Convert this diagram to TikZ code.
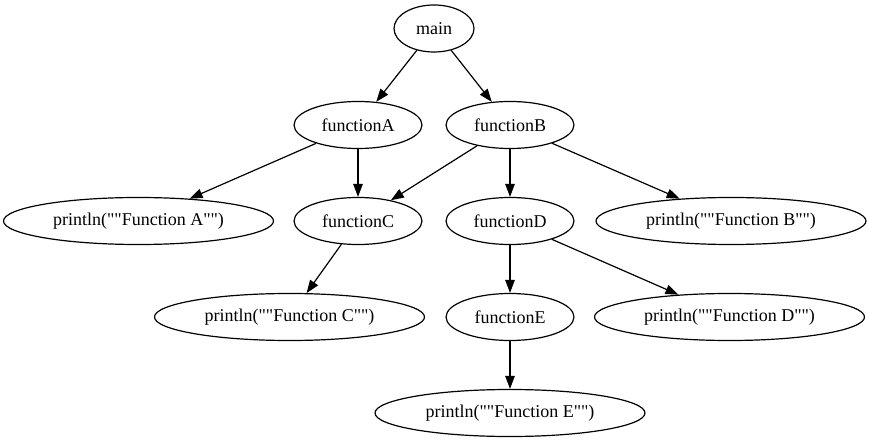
\documentclass[tikz,border=0pt]{standalone}
\usepackage{fontspec}
\setmainfont{Liberation Serif}[Ligatures=TeXOff]
\usetikzlibrary{shapes.geometric,arrows.meta}

\tikzset{
  fn/.style={ellipse, draw=black, line width=1.2pt, inner sep=0pt,
             minimum height=47pt, font=\fontsize{18}{20}\selectfont},
  callbox/.style={fn, minimum width=128pt},
  printbox/.style={fn, minimum width=270pt},
  edge/.style={draw=black, line width=1.2pt,
               -{Triangle[length=13pt,width=9.5pt]}}
}

\begin{document}
\begin{tikzpicture}[x=1pt,y=-1pt]
  \useasboundingbox (0,0) rectangle (869,443);

  % call graph nodes
  \node[fn, minimum width=80pt] (main) at (434,28.5) {main};
  \node[callbox] (fA) at (358,125) {functionA};
  \node[callbox] (fB) at (510,125) {functionB};
  \node[printbox] (pA) at (138.5,221) {println(""Function A"")};
  \node[callbox] (fC) at (358,221) {functionC};
  \node[callbox] (fD) at (510,221) {functionD};
  \node[printbox] (pB) at (731,221) {println(""Function B"")};
  \node[printbox] (pC) at (289.5,317) {println(""Function C"")};
  \node[callbox] (fE) at (510,317) {functionE};
  \node[printbox] (pD) at (729.5,317) {println(""Function D"")};
  \node[printbox] (pE) at (510,413) {println(""Function E"")};

  % calls
  \draw[edge] (main) -- (fA);
  \draw[edge] (main) -- (fB);
  \draw[edge] (fA) -- (pA);
  \draw[edge] (fA) -- (fC);
  \draw[edge] (fB) -- (fC);
  \draw[edge] (fB) -- (fD);
  \draw[edge] (fB) -- (pB);
  \draw[edge] (fC) -- (pC);
  \draw[edge] (fD) -- (fE);
  \draw[edge] (fD) -- (pD);
  \draw[edge] (fE) -- (pE);
\end{tikzpicture}
\end{document}
